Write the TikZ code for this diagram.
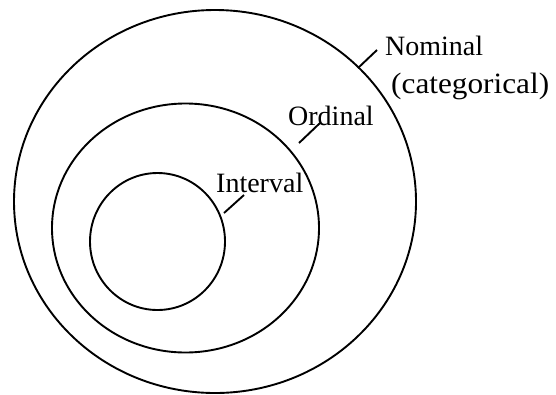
\documentclass[tikz,border=0pt]{standalone}
\usepackage{fontspec}
\setmainfont{Liberation Serif}
\usetikzlibrary{shapes.geometric}
\begin{document}
\begin{tikzpicture}[x=1pt,y=-1pt,
  ring/.style={draw, ellipse, line width=1.9pt, inner sep=0pt, outer sep=0pt},
  lab/.style={anchor=base west, inner sep=0pt, font=\fontsize{28}{38}\selectfont},
  tick/.style={line width=1.9pt}]
\useasboundingbox (0,0) rectangle (556,394);
\node[ring, minimum width=402pt, minimum height=383pt] (nominal) at (215,201.5) {};
\node[ring, minimum width=267pt, minimum height=249pt] (ordinal) at (185.5,228) {};
\node[ring, minimum width=135pt, minimum height=137pt] (interval) at (157.5,241.5) {};
\node[lab] (tnom) at (385,55) {Nominal};
\node[lab, font=\fontsize{29.5}{38}\selectfont] (tcat) at (391,93) {\scalebox{1.06}[1]{(categorical)}};
\node[lab] (tord) at (288,125) {Ordinal};
\node[lab] (tint) at (216,192) {Interval};
\coordinate (n1) at (358,68);
\coordinate (n2) at (377,50);
\coordinate (o1) at (299,143);
\coordinate (o2) at (320,123);
\coordinate (i1) at (224,213);
\coordinate (i2) at (244,195);
\draw[tick] (n1) -- (n2);
\draw[tick] (o1) -- (o2);
\draw[tick] (i1) -- (i2);
\end{tikzpicture}
\end{document}
